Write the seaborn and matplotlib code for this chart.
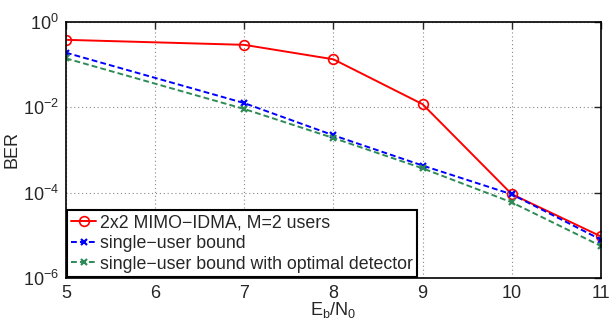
import matplotlib
matplotlib.use("Agg")
import matplotlib.pyplot as plt
import seaborn as sns
import pandas as pd
import numpy as np

ebn0 = [5, 7, 8, 9, 10, 11]
ber_idma = [0.38, 0.29, 0.133, 0.0118, 9.2e-5, 9.4e-6]
ber_su = [0.19, 0.0125, 0.0022, 4.3e-4, 9.1e-5, 7.9e-6]
ber_su_opt = [0.14, 0.0091, 0.0019, 3.7e-4, 5.9e-5, 5.6e-6]
labels = ["2x2 MIMO\u2212IDMA, M=2 users", "single\u2212user bound",
          "single\u2212user bound with optimal detector"]

sns.set_style("white")
plt.rcParams['font.family'] = ['Liberation Sans', 'DejaVu Sans']
plt.rcParams['mathtext.fontset'] = 'custom'
plt.rcParams['mathtext.rm'] = 'Liberation Sans'
plt.rcParams['mathtext.it'] = 'Liberation Sans'
plt.rcParams['mathtext.default'] = 'regular'

df = pd.DataFrame({"x": ebn0 * 3,
                   "y": ber_idma + ber_su + ber_su_opt,
                   "s": [labels[0]] * 6 + [labels[1]] * 6 + [labels[2]] * 6})

fig = plt.figure(figsize=(6.1, 3.22), dpi=100)
ax = fig.add_axes([0.108, 0.137, 0.877, 0.795])

colors = ["#ff0000", "#0000ff", "#2e8b57"]
sns.lineplot(data=df, x="x", y="y", hue="s", style="s", ax=ax,
             palette=dict(zip(labels, colors)),
             markers=dict(zip(labels, ["o", "X", "X"])),
             dashes=dict(zip(labels, ["", (3, 1.5), (3, 1.5)])),
             legend=False)

lstyles = [dict(ls="-", marker="o", mfc="none", ms=7, mew=1.2),
           dict(ls=(0, (3, 1.6)), marker="x", ms=5, mew=1.6),
           dict(ls=(0, (3, 1.6)), marker="x", ms=5, mew=1.6)]
for line, col, st, lab in zip(ax.lines[:3], colors, lstyles, labels):
    line.set_color(col)
    line.set_mec(col)
    line.set_linewidth(1.4)
    line.set_linestyle(st["ls"])
    line.set_marker(st["marker"])
    line.set_markersize(st["ms"])
    line.set_markeredgewidth(st["mew"])
    line.set_markerfacecolor(st.get("mfc", col))
    line.set_label(lab)

ax.set_yscale("log")
ax.set_xlim(5, 11)
ax.set_ylim(1e-6, 1)
ax.set_yticks([1e-6, 1e-4, 1e-2, 1])
ax.set_yticklabels([r"$10^{-6}$", r"$10^{-4}$", r"$10^{-2}$", r"$10^{0}$"])
ax.yaxis.set_minor_locator(matplotlib.ticker.NullLocator())
ax.set_xticks([5, 6, 7, 8, 9, 10, 11])
ax.grid(True, which="major", ls=(0, (1, 2.5)), color="#888888", lw=0.8)
ax.tick_params(direction="in", length=5, width=1, labelsize=13, top=True, right=True, pad=5)
for sp in ax.spines.values():
    sp.set_color("black")
    sp.set_linewidth(1.2)
ax.set_xlabel(r"$E_b/N_0$", fontsize=13, labelpad=-1)
ax.set_ylabel("BER", fontsize=13, labelpad=2)

leg = ax.legend(handles=ax.lines[:3], labels=labels, loc="lower left", fontsize=12.8,
                frameon=True, fancybox=False,
                handlelength=1.4, handletextpad=0.2, borderpad=0.25, labelspacing=0.2,
                borderaxespad=0.05)
leg.get_frame().set_edgecolor("black")
leg.get_frame().set_linewidth(1.5)
leg.get_frame().set_alpha(1)

fig.savefig("out.png", dpi=100)
